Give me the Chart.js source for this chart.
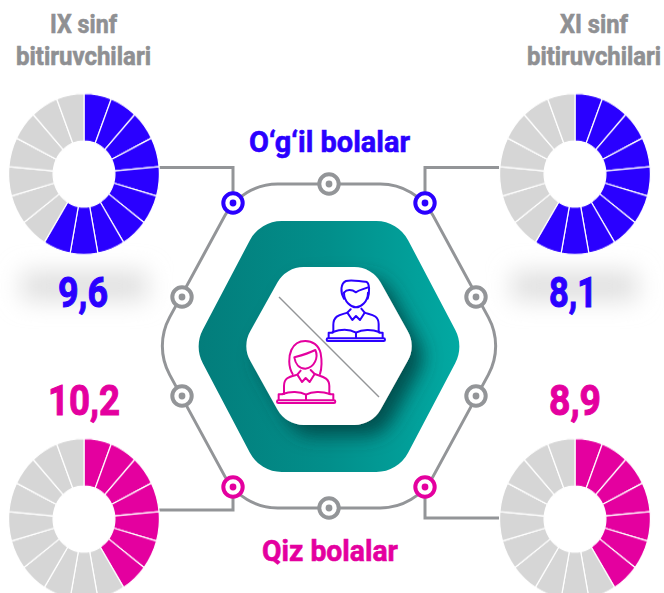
<!DOCTYPE html>
<html>
<head>
<meta charset="utf-8">
<style>
html, body { margin: 0; padding: 0; width: 664px; height: 593px; overflow: hidden; background: #fff; }
#stage { position: relative; width: 664px; height: 593px; overflow: hidden; }
svg { position: absolute; left: 0; top: 0; }
svg text { font-family: Roboto, sans-serif; font-weight: 700; }
.donut { position: absolute; width: 152px; height: 152px; transform: scaleY(1.068); transform-origin: center; }
</style>
<script src="https://cdn.jsdelivr.net/npm/chart.js@4"></script>
</head>
<body>
<div id="stage">
<svg width="664" height="593" viewBox="0 0 664 593">
  <defs>
    <linearGradient id="tealGrad" gradientUnits="userSpaceOnUse" x1="199" y1="0" x2="459" y2="0">
      <stop offset="0" stop-color="#037d7b"/>
      <stop offset="0.5" stop-color="#028f8b"/>
      <stop offset="1" stop-color="#02a9a2"/>
    </linearGradient>
    <filter id="bandBlur" x="-40%" y="-200%" width="180%" height="500%">
      <feGaussianBlur stdDeviation="12"/>
    </filter>
    <filter id="innerShadow" x="-30%" y="-30%" width="170%" height="170%">
      <feDropShadow dx="11" dy="11" stdDeviation="9" flood-color="#033f3e" flood-opacity="0.8"/>
    </filter>
    <clipPath id="tealClip"><path id="tealClipPath"/></clipPath>
  </defs>

  <rect x="22" y="272" width="125" height="28" fill="#dedede" filter="url(#bandBlur)"/>
  <rect x="512" y="272" width="125" height="28" fill="#dedede" filter="url(#bandBlur)"/>

  <g fill="none" stroke="#939598" stroke-width="3">
    <path id="outline"/>
    <path d="M159 167.5H233V195"/>
    <path d="M499 167.5H425V195"/>
    <path d="M159 510H233V495"/>
    <path d="M499 518H425V495"/>
  </g>

  <path id="tealHex" fill="url(#tealGrad)"/>
  <g clip-path="url(#tealClip)">
    <path id="whiteHex" fill="#fff" filter="url(#innerShadow)"/>
  </g>

  <line x1="279" y1="297" x2="379" y2="397" stroke="#939598" stroke-width="1.4"/>

  <g id="nodes"></g>

  <g transform="translate(270 270) scale(0.3333)" fill="none" stroke-width="6" stroke-linecap="round" stroke-linejoin="round">
    <g stroke="#2a00ff">
      <path d="M222 86C210 66 212 40 228 33C248 27 272 36 288 35C300 38 299 68 293 86"/>
      <path d="M222 68C230 58 245 58 258 67C266 60 280 58 294 52"/>
      <path d="M222 68C222 96 244 112 258 112C272 112 294 96 294 68"/>
      <path d="M242 118L232 128L247 150L258 138L270 150L284 128L274 116"/>
      <path d="M232 128C215 134 190 134 190 165V186"/>
      <path d="M284 128C300 134 326 134 326 162V186"/>
      <path d="M188 186C212 178 240 178 258 188C276 178 306 178 328 186"/>
      <path d="M258 188V204"/>
      <path d="M176 204V188H188M328 188H338V204"/>
      <rect x="170" y="205" width="175" height="8" rx="4"/>
    </g>
    <g stroke="#e4009f">
      <path d="M68 312C54 290 56 258 64 240C74 218 92 213 106 213C126 213 146 224 152 250C156 272 156 292 150 312"/>
      <path d="M73 262C88 258 112 252 136 240C146 262 134 292 106 296C88 296 76 282 73 262Z"/>
      <path d="M92 302L82 314L96 336L107 324L119 336L134 312L122 300"/>
      <path d="M82 314C60 320 42 322 42 348V372"/>
      <path d="M134 312C155 320 178 322 178 348V372"/>
      <path d="M38 372C60 364 90 364 108 374C126 364 156 364 180 372"/>
      <path d="M108 374V390"/>
      <path d="M26 390V373H38M180 373H190V390"/>
      <rect x="21" y="391" width="175" height="8" rx="4"/>
    </g>
  </g>

  <g id="labels"></g>
</svg>

<canvas id="boysIX" class="donut" width="152" height="152" style="left:7.5px;top:98px"></canvas>
<canvas id="boysXI" class="donut" width="152" height="152" style="left:499px;top:98px"></canvas>
<canvas id="girlsIX" class="donut" width="152" height="152" style="left:7.5px;top:442.5px"></canvas>
<canvas id="girlsXI" class="donut" width="152" height="152" style="left:499px;top:442.5px"></canvas>
</div>

<script>
// 17 equal segments per ring, the first ones coloured
const boysIXValues = [1, 1, 1, 1, 1, 1, 1, 1, 1, 1, 1, 1, 1, 1, 1, 1, 1];
const boysXIValues = [1, 1, 1, 1, 1, 1, 1, 1, 1, 1, 1, 1, 1, 1, 1, 1, 1];
const girlsIXValues = [1, 1, 1, 1, 1, 1, 1, 1, 1, 1, 1, 1, 1, 1, 1, 1, 1];
const girlsXIValues = [1, 1, 1, 1, 1, 1, 1, 1, 1, 1, 1, 1, 1, 1, 1, 1, 1];
const boysIXFilled = 10;
const boysXIFilled = 10;
const girlsIXFilled = 7;
const girlsXIFilled = 7;

const blue = "#2a00ff";
const pink = "#e4009f";
const ringGrey = "#d6d6d6";
const lineGrey = "#939598";
const textGrey = "#8f9093";

function donut(id, values, filled, color) {
    new Chart(document.getElementById(id), {
        type: "doughnut",
        data: {
            datasets: [{
                data: values,
                backgroundColor: values.map((v, i) => (i < filled ? color : ringGrey)),
                borderColor: "#fff",
                borderWidth: 1.2,
            }],
        },
        options: {
            responsive: false,
            animation: false,
            cutout: "41%",
            events: [],
            plugins: {
                legend: { display: false },
                tooltip: { enabled: false },
            },
        },
    });
}

donut("boysIX", boysIXValues, boysIXFilled, blue);
donut("boysXI", boysXIValues, boysXIFilled, blue);
donut("girlsIX", girlsIXValues, girlsIXFilled, pink);
donut("girlsXI", girlsXIValues, girlsXIFilled, pink);

// hexagon with rounded corners, flat on top and bottom
function hexPath(cx, cy, topHalf, sideHalf, halfHeight, r) {
    const pts = [
        [cx - topHalf, cy - halfHeight], [cx + topHalf, cy - halfHeight], [cx + sideHalf, cy],
        [cx + topHalf, cy + halfHeight], [cx - topHalf, cy + halfHeight], [cx - sideHalf, cy],
    ];
    let d = "";
    pts.forEach((p, i) => {
        const prev = pts[(i + 5) % 6];
        const next = pts[(i + 1) % 6];
        const a = Math.atan2(prev[1] - p[1], prev[0] - p[0]);
        const b = Math.atan2(next[1] - p[1], next[0] - p[0]);
        let turn = Math.abs(a - b);
        if (turn > Math.PI) turn = 2 * Math.PI - turn;
        const t = r / Math.tan(turn / 2);
        const x1 = p[0] + t * Math.cos(a), y1 = p[1] + t * Math.sin(a);
        const x2 = p[0] + t * Math.cos(b), y2 = p[1] + t * Math.sin(b);
        d += (i ? "L" : "M") + x1.toFixed(1) + " " + y1.toFixed(1);
        d += "A" + r + " " + r + " 0 0 1 " + x2.toFixed(1) + " " + y2.toFixed(1);
    });
    return d + "Z";
}

const tealD = hexPath(329, 346.5, 69, 135, 125.5, 36);
document.getElementById("tealHex").setAttribute("d", tealD);
document.getElementById("tealClipPath").setAttribute("d", tealD);
document.getElementById("whiteHex").setAttribute("d", hexPath(329, 346, 43, 87, 79, 30));
document.getElementById("outline").setAttribute("d", hexPath(329, 346, 87, 175, 162, 60));

const svgNS = "http://www.w3.org/2000/svg";

const nodePositions = [
    [329, 184, lineGrey], [182, 297, lineGrey], [476, 297, lineGrey],
    [182, 396, lineGrey], [476, 396, lineGrey], [329, 508, lineGrey],
    [233, 203, blue], [425, 203, blue], [233, 487, pink], [425, 487, pink],
];
const nodesGroup = document.getElementById("nodes");
nodePositions.forEach(([x, y, color]) => {
    const ring = document.createElementNS(svgNS, "circle");
    ring.setAttribute("cx", x);
    ring.setAttribute("cy", y);
    ring.setAttribute("r", 9.7);
    ring.setAttribute("fill", "#fff");
    ring.setAttribute("stroke", color);
    ring.setAttribute("stroke-width", 4);
    nodesGroup.appendChild(ring);
    const dot = document.createElementNS(svgNS, "circle");
    dot.setAttribute("cx", x);
    dot.setAttribute("cy", y);
    dot.setAttribute("r", 3.4);
    dot.setAttribute("fill", color);
    nodesGroup.appendChild(dot);
});

// the last number thickens the glyphs, the reference type is heavier than Roboto Bold
const textLabels = [
    ["IX sinf", 50, 33, 67, 26, textGrey, 0.6],
    ["bitiruvchilari", 16, 65, 135, 26, textGrey, 0.6],
    ["XI sinf", 560, 33, 68, 26, textGrey, 0.6],
    ["bitiruvchilari", 527, 65, 134, 26, textGrey, 0.6],
    ["O\u2018g\u2018il bolalar", 249, 152, 161, 30, blue, 0.6],
    ["Qiz bolalar", 262, 561, 136, 30, pink, 0.6],
    ["9,6", 58, 307, 50, 42, blue, 1],
    ["8,1", 549, 307, 48, 42, blue, 1],
    ["10,2", 48, 415, 72, 42, pink, 1],
    ["8,9", 549, 415, 52, 42, pink, 1],
];
const labelsGroup = document.getElementById("labels");
textLabels.forEach(([str, x, y, w, size, color, thick]) => {
    const t = document.createElementNS(svgNS, "text");
    t.textContent = str;
    t.setAttribute("x", x);
    t.setAttribute("y", y);
    t.setAttribute("font-size", size);
    t.setAttribute("fill", color);
    t.setAttribute("stroke", color);
    t.setAttribute("stroke-width", thick);
    t.setAttribute("textLength", w);
    t.setAttribute("lengthAdjust", "spacingAndGlyphs");
    labelsGroup.appendChild(t);
});
</script>
</body>
</html>
